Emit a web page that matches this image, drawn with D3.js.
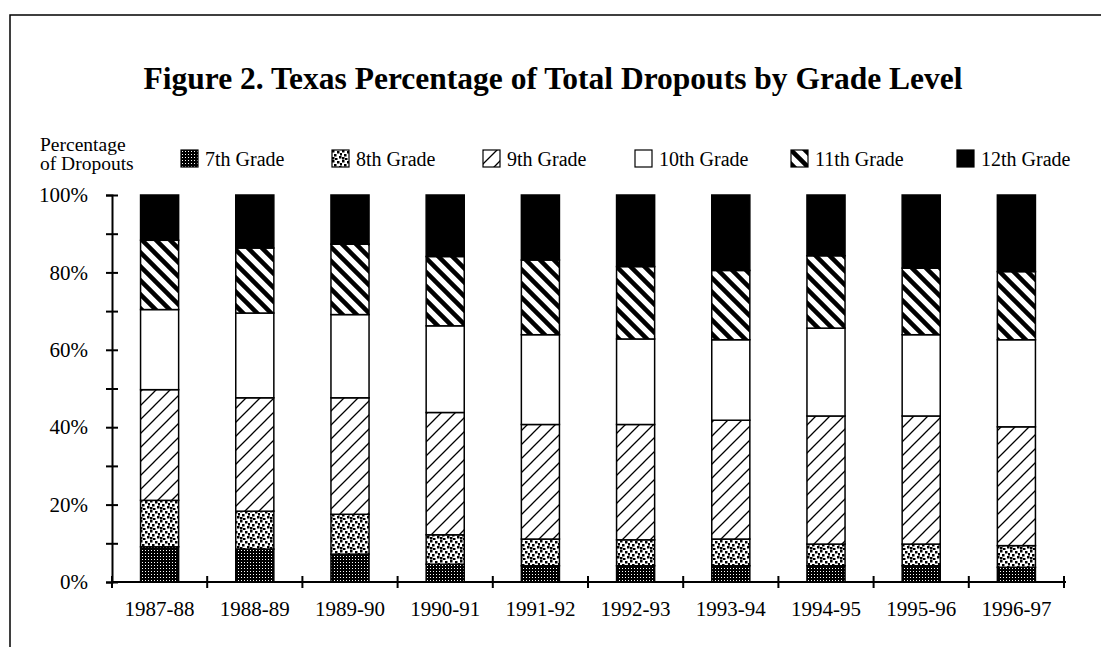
<!DOCTYPE html>
<html>
<head>
<meta charset="utf-8">
<script src="https://cdn.jsdelivr.net/npm/d3@7"></script>
<style>
  body { margin: 0; background: #fff; }
  svg { display: block; }
  text { font-family: "Liberation Serif", "Times New Roman", serif; fill: #000; }
</style>
</head>
<body>
<svg id="chart" width="1101" height="647"></svg>
<script>
// school years and grade series (percent of total dropouts)
const years = ['1987-88', '1988-89', '1989-90', '1990-91', '1991-92', '1992-93', '1993-94', '1994-95', '1995-96', '1996-97'];
const grades = ['7th Grade', '8th Grade', '9th Grade', '10th Grade', '11th Grade', '12th Grade'];
const grade7 = [9.1, 8.5, 7.2, 4.6, 4.2, 4.2, 4.2, 4.2, 4.2, 3.8];
const grade8 = [12.0, 9.8, 10.3, 7.6, 6.9, 6.7, 6.9, 5.6, 5.6, 5.6];
const grade9 = [28.6, 29.3, 30.1, 31.6, 29.6, 29.8, 30.7, 33.1, 33.1, 30.7];
const grade10 = [20.7, 21.9, 21.5, 22.4, 23.2, 22.1, 20.8, 22.7, 21.0, 22.5];
const grade11 = [17.9, 16.8, 18.2, 17.9, 19.3, 18.7, 17.9, 18.7, 17.2, 17.6];
const grade12 = [11.7, 13.7, 12.7, 15.9, 16.8, 18.5, 19.5, 15.7, 18.9, 19.8];
const yTickValues = [0, 10, 20, 30, 40, 50, 60, 70, 80, 90, 100];

const series = [grade7, grade8, grade9, grade10, grade11, grade12];
const rows = years.map(function (yr, i) {
  const r = { year: yr };
  grades.forEach(function (g, k) { r[g] = series[k][i]; });
  return r;
});

const svg = d3.select('#chart');
const plotLeft = 112, plotRight = 1064, plotTop = 195, plotBottom = 582;

// patterns
const defs = svg.append('defs');
const p7 = defs.append('pattern').attr('id', 'p7').attr('patternUnits', 'userSpaceOnUse')
  .attr('width', 3).attr('height', 3);
p7.append('rect').attr('width', 3).attr('height', 3).attr('fill', '#000');
p7.append('rect').attr('x', 1).attr('y', 1).attr('width', 1).attr('height', 1).attr('fill', '#fff');

const p8 = defs.append('pattern').attr('id', 'p8').attr('patternUnits', 'userSpaceOnUse')
  .attr('width', 10).attr('height', 10);
p8.append('rect').attr('width', 10).attr('height', 10).attr('fill', '#fff');
[[0, 0], [5, 1], [2, 4], [7, 6], [8, 3], [3, 8], [0, 7]].forEach(function (p) {
  p8.append('rect').attr('x', p[0]).attr('y', p[1]).attr('width', 2.5).attr('height', 2.5).attr('fill', '#000');
});

const s9 = 14;
const p9 = defs.append('pattern').attr('id', 'p9').attr('patternUnits', 'userSpaceOnUse')
  .attr('width', s9).attr('height', s9);
p9.append('rect').attr('width', s9).attr('height', s9).attr('fill', '#fff');
p9.append('path').attr('d', 'M-2,2 l4,-4 M0,' + s9 + ' l' + s9 + ',-' + s9 + ' M' + (s9 - 2) + ',' + (s9 + 2) + ' l4,-4')
  .attr('stroke', '#000').attr('stroke-width', 1.3);

const s11 = 14;
const p11 = defs.append('pattern').attr('id', 'p11').attr('patternUnits', 'userSpaceOnUse')
  .attr('width', s11).attr('height', s11);
p11.append('rect').attr('width', s11).attr('height', s11).attr('fill', '#fff');
p11.append('path').attr('d', 'M-3,-3 l' + (s11 + 6) + ',' + (s11 + 6) + ' M' + (s11 - 3) + ',-3 l6,6 M-3,' + (s11 - 3) + ' l6,6')
  .attr('stroke', '#000').attr('stroke-width', 4.5);

const fills = ['url(#p7)', 'url(#p8)', 'url(#p9)', '#fff', 'url(#p11)', '#000'];

// frame
svg.append('path').attr('d', 'M10,647 L10,15 L1101,15')
  .attr('fill', 'none').attr('stroke', '#000').attr('stroke-width', 1.5);

// title
svg.append('text').attr('x', 553).attr('y', 89).attr('text-anchor', 'middle')
  .style('font-size', '31.5px').style('font-weight', 'bold')
  .text('Figure 2. Texas Percentage of Total Dropouts by Grade Level');

// y axis caption
svg.append('text').attr('x', 40).attr('y', 151).style('font-size', '19.5px').text('Percentage');
svg.append('text').attr('x', 40).attr('y', 170).style('font-size', '19.5px').text('of Dropouts');

// legend
const legendX = [181, 332, 483, 635, 791, 957];
const legend = svg.append('g').selectAll('g').data(grades).join('g')
  .attr('transform', function (d, i) { return 'translate(' + legendX[i] + ',150)'; });
legend.append('rect').attr('width', 17).attr('height', 17)
  .attr('fill', function (d, i) { return fills[i]; })
  .attr('stroke', '#000').attr('stroke-width', 1.2);
legend.append('text').attr('x', 24).attr('y', 16).style('font-size', '20px').text(function (d) { return d; });

// scales
const x = d3.scaleBand().domain(years).range([plotLeft, plotRight]).paddingInner(0.6).paddingOuter(0.3);
const y = d3.scaleLinear().domain([0, 100]).range([plotBottom, plotTop]);

// bars
const stack = d3.stack().keys(grades)(rows);
svg.append('g').selectAll('g').data(stack).join('g')
  .attr('fill', function (d, i) { return fills[i]; })
  .selectAll('rect').data(function (d) { return d; }).join('rect')
  .attr('x', function (d) { return x(d.data.year); })
  .attr('y', function (d) { return y(d[1]); })
  .attr('width', x.bandwidth())
  .attr('height', function (d) { return y(d[0]) - y(d[1]); })
  .attr('stroke', '#000').attr('stroke-width', 1.5);

// y axis
const yAxis = svg.append('g').attr('transform', 'translate(' + plotLeft + ',0)')
  .call(d3.axisLeft(y).tickValues(yTickValues).tickSize(6).tickPadding(18)
    .tickFormat(function (d) { return d % 20 === 0 ? d + '%' : ''; }));
yAxis.select('.domain').attr('stroke-width', 2);
yAxis.selectAll('.tick line').attr('x1', -6).attr('x2', 6).attr('stroke-width', 2);
yAxis.selectAll('.tick text').style('font-size', '21px').style('font-family', '"Liberation Serif", serif');

// x axis
const xAxis = svg.append('g').attr('transform', 'translate(0,' + plotBottom + ')')
  .call(d3.axisBottom(x).tickSize(0).tickPadding(19));
xAxis.select('.domain').attr('d', 'M' + plotLeft + ',0H' + (plotRight + 2)).attr('stroke-width', 2);
xAxis.selectAll('.tick text').style('font-size', '21px').style('font-family', '"Liberation Serif", serif');
xAxis.selectAll('.sep').data(d3.range(years.length + 1)).join('line')
  .attr('class', 'sep')
  .attr('x1', function (i) { return plotLeft + i * x.step(); })
  .attr('x2', function (i) { return plotLeft + i * x.step(); })
  .attr('y1', -6).attr('y2', 6)
  .attr('stroke', '#000').attr('stroke-width', 2);
</script>
</body>
</html>
